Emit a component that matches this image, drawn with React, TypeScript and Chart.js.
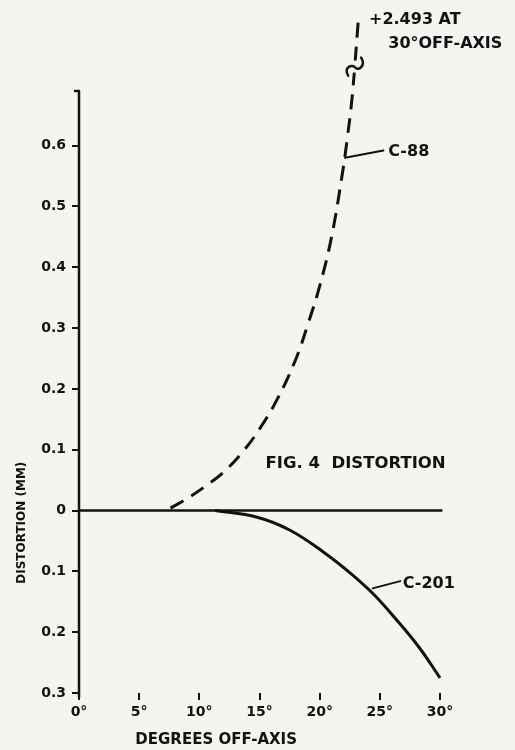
import React, { useEffect, useRef } from "react";
import { Chart, registerables } from "chart.js";

Chart.register(...registerables);

// ---- data ----
const xTickValues = [0, 5, 10, 15, 20, 25, 30];
const yTickValues = [-0.3, -0.2, -0.1, 0, 0.1, 0.2, 0.3, 0.4, 0.5, 0.6];

const c88Degrees = [7.6, 9.0, 10.5, 12.0, 13.5, 15.0, 16.5, 18.0, 19.0, 20.0, 21.0, 21.9, 22.3, 22.7, 23.2];
const c88Distortion = [0.004, 0.02, 0.04, 0.063, 0.094, 0.134, 0.184, 0.248, 0.305, 0.369, 0.451, 0.556, 0.613, 0.68, 0.803];

const c201Degrees = [11.3, 14.8, 17.5, 20.3, 22.5, 24.5, 26.4, 28.3, 30.0];
const c201Distortion = [0, -0.011, -0.032, -0.068, -0.102, -0.138, -0.18, -0.226, -0.275];

const zeroDegrees = [0, 30.2];
const zeroDistortion = [0, 0];

const INK = "#121212";
const PAPER = "#f4f4f1";
const FONT = "'DejaVu Sans', 'Liberation Sans', sans-serif";

const toPoints = (xs: number[], ys: number[]) => xs.map((x, i) => ({ x, y: ys[i] }));

const annotationPlugin = {
  id: "annotations",
  beforeDraw(chart: any) {
    const { ctx, width, height } = chart;
    ctx.save();
    ctx.fillStyle = PAPER;
    ctx.fillRect(0, 0, width, height);
    ctx.restore();
  },
  afterDraw(chart: any) {
    const { ctx } = chart;
    const xs = chart.scales.x;
    const ys = chart.scales.y;
    const px = (v: number) => xs.getPixelForValue(v);
    const py = (v: number) => ys.getPixelForValue(v);
    ctx.save();
    ctx.strokeStyle = INK;
    ctx.fillStyle = INK;
    ctx.lineCap = "round";
    ctx.lineJoin = "round";

    // y axis line with small hook at top
    ctx.lineWidth = 2.5;
    ctx.beginPath();
    ctx.moveTo(px(0) - 4, py(0.69));
    ctx.lineTo(px(0), py(0.69));
    ctx.lineTo(px(0), py(-0.3) + 4);
    ctx.stroke();

    // break symbol on C-88
    const cx = px(22.95);
    const cy = py(0.73);
    ctx.fillStyle = PAPER;
    ctx.fillRect(cx - 6, cy - 6, 12, 12);
    ctx.fillStyle = INK;
    ctx.lineWidth = 2.5;
    ctx.beginPath();
    ctx.moveTo(cx - 7, cy + 9);
    ctx.bezierCurveTo(cx - 12, cy + 1, cx - 3, cy - 3, cx, cy + 1);
    ctx.bezierCurveTo(cx + 3, cy + 5, cx + 11, cy - 1, cx + 6, cy - 9);
    ctx.stroke();

    // leaders
    ctx.lineWidth = 2;
    ctx.beginPath();
    ctx.moveTo(px(22.1), py(0.58));
    ctx.lineTo(px(25.3), py(0.592));
    ctx.stroke();
    ctx.beginPath();
    ctx.moveTo(px(24.4), py(-0.128));
    ctx.lineTo(px(26.7), py(-0.116));
    ctx.stroke();

    ctx.textBaseline = "middle";
    ctx.textAlign = "left";
    ctx.font = `bold 16px ${FONT}`;
    ctx.fillText("C-88", px(25.7), py(0.59));
    ctx.fillText("C-201", px(26.9), py(-0.12));
    ctx.fillText("+2.493 AT", px(24.1), py(0.807));
    ctx.fillText("30°OFF-AXIS", px(25.7), py(0.767));
    ctx.font = `bold 16.5px ${FONT}`;
    ctx.fillText("FIG. 4  DISTORTION", px(15.5), py(0.077));

    // axis titles
    ctx.font = `bold 15px ${FONT}`;
    ctx.textAlign = "center";
    ctx.fillText("DEGREES OFF-AXIS", px(11.4), ys.bottom + 47);

    ctx.save();
    ctx.translate(px(0) - 57, py(-0.02));
    ctx.rotate(-Math.PI / 2);
    ctx.font = `bold 12px ${FONT}`;
    ctx.fillText("DISTORTION (MM)", 0, 0);
    ctx.restore();

    ctx.restore();
  },
};

export default function App() {
  const canvasRef = useRef<HTMLCanvasElement | null>(null);

  useEffect(() => {
    if (!canvasRef.current) return;
    const lineBase = {
      pointRadius: 0,
      borderColor: INK,
      fill: false,
      clip: false as any,
    };
    const chart = new Chart(canvasRef.current, {
      type: "line",
      data: {
        datasets: [
          {
            ...lineBase,
            label: "zero",
            data: toPoints(zeroDegrees, zeroDistortion),
            borderWidth: 2.5,
            tension: 0,
          },
          {
            ...lineBase,
            label: "C-88",
            data: toPoints(c88Degrees, c88Distortion),
            borderWidth: 3,
            borderDash: [15, 9],
            tension: 0.4,
          },
          {
            ...lineBase,
            label: "C-201",
            data: toPoints(c201Degrees, c201Distortion),
            borderWidth: 3,
            tension: 0.4,
          },
        ],
      },
      options: {
        responsive: false,
        animation: false,
        events: [],
        layout: { padding: { left: 0, right: 75, top: 24, bottom: 0 } },
        plugins: {
          legend: { display: false },
          tooltip: { enabled: false },
          title: { display: false },
        },
        scales: {
          x: {
            type: "linear",
            min: 0,
            max: 30,
            afterBuildTicks: (scale: any) => {
              scale.ticks = xTickValues.map((v) => ({ value: v }));
            },
            afterFit: (scale: any) => {
              scale.height = 57;
            },
            border: { display: false },
            grid: {
              display: true,
              drawOnChartArea: false,
              drawTicks: true,
              tickLength: 7,
              color: INK,
              lineWidth: 2,
            },
            ticks: {
              autoSkip: false,
              maxRotation: 0,
              padding: 4,
              color: INK,
              font: { family: FONT, size: 14, weight: "bold" },
              callback: (v: any) => `${v}°`,
            },
          },
          y: {
            type: "linear",
            min: -0.3,
            max: 0.8,
            afterBuildTicks: (scale: any) => {
              scale.ticks = yTickValues.map((v) => ({ value: v }));
            },
            afterFit: (scale: any) => {
              scale.width = 79;
            },
            border: { display: false },
            grid: {
              display: true,
              drawOnChartArea: false,
              drawTicks: true,
              tickLength: 7,
              color: INK,
              lineWidth: 2,
            },
            ticks: {
              autoSkip: false,
              padding: 6,
              color: INK,
              font: { family: FONT, size: 14, weight: "bold" },
              callback: (v: any) => {
                const a = Math.abs(Number(v));
                return a < 1e-9 ? "0" : a.toFixed(1);
              },
            },
          },
        },
      },
      plugins: [annotationPlugin],
    } as any);
    return () => chart.destroy();
  }, []);

  return (
    <div style={{ position: "fixed", left: 0, top: 0, width: 515, height: 750, background: PAPER }}>
      <canvas ref={canvasRef} width={515} height={750} style={{ display: "block" }} />
    </div>
  );
}
